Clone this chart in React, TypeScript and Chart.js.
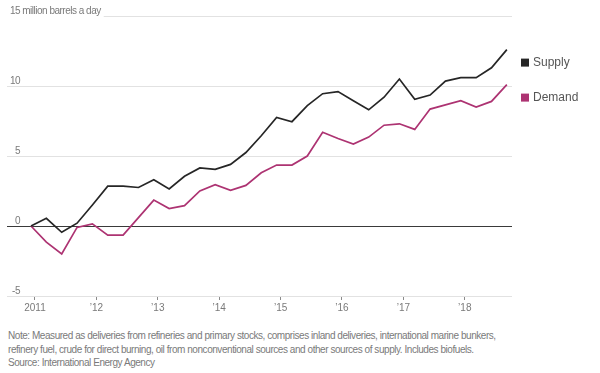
import React, { useEffect, useRef } from "react";
import { Chart, registerables } from "chart.js";

Chart.register(...registerables);

const quarters = [
  "2011 Q1", "2011 Q2", "2011 Q3", "2011 Q4",
  "2012 Q1", "2012 Q2", "2012 Q3", "2012 Q4",
  "2013 Q1", "2013 Q2", "2013 Q3", "2013 Q4",
  "2014 Q1", "2014 Q2", "2014 Q3", "2014 Q4",
  "2015 Q1", "2015 Q2", "2015 Q3", "2015 Q4",
  "2016 Q1", "2016 Q2", "2016 Q3", "2016 Q4",
  "2017 Q1", "2017 Q2", "2017 Q3", "2017 Q4",
  "2018 Q1", "2018 Q2", "2018 Q3", "2018 Q4",
];

const supply = [
  0, 0.55, -0.45, 0.2,
  1.5, 2.85, 2.85, 2.75,
  3.3, 2.65, 3.55, 4.15,
  4.05, 4.4, 5.25, 6.45,
  7.75, 7.45, 8.6, 9.45,
  9.6, 8.95, 8.3, 9.2,
  10.5, 9.05, 9.35, 10.35,
  10.6, 10.6, 11.3, 12.6,
];

const demand = [
  0, -1.15, -2.0, -0.1,
  0.15, -0.65, -0.65, 0.6,
  1.85, 1.25, 1.45, 2.5,
  2.95, 2.55, 2.9, 3.8,
  4.35, 4.35, 5.0, 6.7,
  6.25, 5.85, 6.35, 7.2,
  7.3, 6.9, 8.35, 8.65,
  8.95, 8.5, 8.9, 10.1,
];

const seriesNames = ["Supply", "Demand"];
const seriesColors = ["#262626", "#ad3372"];

const yearTicks = [2011, 2012, 2013, 2014, 2015, 2016, 2017, 2018];
const yearTickLabels = ["2011", "\u201912", "\u201913", "\u201914", "\u201915", "\u201916", "\u201917", "\u201918"];

const yTicks = [-5, 0, 5, 10, 15];
const yUnit = "million barrels a day";

const noteLines = [
  "Note: Measured as deliveries from refineries and primary stocks, comprises inland deliveries, international marine bunkers,",
  "refinery fuel, crude for direct burning, oil from nonconventional sources and other sources of supply. Includes biofuels.",
  "Source: International Energy Agency",
];

const FONT = "'Liberation Sans', Arial, sans-serif";
const TICK_SHIFT = 0.065;

function quarterToX(q: string): number {
  const [y, qq] = q.split(" Q");
  return Number(y) + (Number(qq) - 1) / 4;
}

const yLabelPlugin = {
  id: "yLabels",
  afterDraw(chart: any) {
    const { ctx, scales } = chart;
    const y = scales.y;
    const left = chart.chartArea.left;
    ctx.save();
    ctx.font = `10px ${FONT}`;
    (ctx as any).letterSpacing = "-0.5px";
    ctx.fillStyle = "#7a7a7a";
    ctx.textBaseline = "alphabetic";
    const maxV = Math.max(...yTicks);
    for (const v of yTicks) {
      const py = y.getPixelForValue(v);
      const txt = v < 0 ? "-" + Math.abs(v) : String(v);
      if (v === maxV) {
        const w = ctx.measureText(" " + yUnit).width;
        ctx.fillStyle = "#ffffff";
        ctx.fillRect(left - 1, py - 12, 20 - left + w + 4, 14);
        ctx.fillStyle = "#7a7a7a";
        ctx.textAlign = "left";
        ctx.fillText(" " + yUnit, 20, py - 2);
      }
      ctx.textAlign = "right";
      ctx.fillText(txt, 20, py - 2);
    }
    ctx.restore();
  },
};

const legendPlugin = {
  id: "sideLegend",
  afterDatasetsDraw(chart: any) {
    const { ctx, scales } = chart;
    const y = scales.y;
    ctx.save();
    ctx.font = `12px ${FONT}`;
    ctx.textBaseline = "middle";
    ctx.textAlign = "left";
    chart.data.datasets.forEach((ds: any, i: number) => {
      const last = ds.data[ds.data.length - 1].y;
      const ly = y.getPixelForValue(last) + 13;
      const sx = chart.chartArea.right + 9;
      ctx.fillStyle = seriesColors[i];
      ctx.fillRect(sx, ly - 4, 8, 8);
      ctx.fillStyle = "#555555";
      ctx.fillText(seriesNames[i], sx + 12, ly);
    });
    ctx.restore();
  },
};

export default function App() {
  const canvasRef = useRef<HTMLCanvasElement | null>(null);

  useEffect(() => {
    if (!canvasRef.current) return;
    const xs = quarters.map(quarterToX);
    const chart = new Chart(canvasRef.current, {
      type: "line",
      data: {
        datasets: [
          {
            label: seriesNames[0],
            data: supply.map((v, i) => ({ x: xs[i], y: v })),
            borderColor: seriesColors[0],
            borderWidth: 1.7,
            pointRadius: 0,
            tension: 0,
            fill: false,
          },
          {
            label: seriesNames[1],
            data: demand.map((v, i) => ({ x: xs[i], y: v })),
            borderColor: seriesColors[1],
            borderWidth: 1.7,
            pointRadius: 0,
            tension: 0,
            fill: false,
          },
        ],
      },
      options: {
        animation: false,
        responsive: false,
        maintainAspectRatio: false,
        layout: { padding: { left: 7, right: 88, top: 16, bottom: 0 } },
        plugins: {
          legend: { display: false },
          tooltip: { enabled: false },
        },
        scales: {
          x: {
            type: "linear",
            min: 2010.609,
            max: 2018.834,
            afterBuildTicks: (scale: any) => {
              scale.ticks = yearTicks.map((yv) => ({ value: yv + TICK_SHIFT }));
            },
            afterFit: (scale: any) => {
              scale.height = 24;
            },
            border: { display: false },
            grid: {
              drawOnChartArea: false,
              drawTicks: true,
              tickLength: 4,
              color: "#8a8a8a",
            },
            ticks: {
              autoSkip: false,
              maxRotation: 0,
              padding: 2,
              color: "#7a7a7a",
              font: { family: FONT, size: 10 },
              callback: (_v: any, idx: number) => yearTickLabels[idx],
            },
          },
          y: {
            type: "linear",
            min: -5,
            max: 15,
            afterBuildTicks: (scale: any) => {
              scale.ticks = yTicks.map((v) => ({ value: v }));
            },
            afterFit: (scale: any) => {
              scale.width = 0;
            },
            border: { display: false },
            grid: {
              drawTicks: false,
              color: (c: any) => (c.tick && c.tick.value === 0 ? "#3a3a3a" : "#e2e2e2"),
              lineWidth: 1,
            },
            ticks: { display: false },
          },
        },
      },
      plugins: [yLabelPlugin, legendPlugin],
    });
    return () => chart.destroy();
  }, []);

  return (
    <div
      style={{
        position: "absolute",
        left: 0,
        top: 0,
        width: 600,
        height: 373,
        background: "#ffffff",
        overflow: "hidden",
      }}
    >
      <div style={{ position: "absolute", left: 0, top: 0, width: 600, height: 320 }}>
        <canvas ref={canvasRef} width={600} height={320} style={{ width: 600, height: 320 }} />
      </div>
      <div
        style={{
          position: "absolute",
          left: 8,
          top: 329,
          width: 592,
          fontFamily: FONT,
          fontSize: 10,
          letterSpacing: "-0.45px",
          lineHeight: "13.5px",
          color: "#7a7a7a",
          whiteSpace: "nowrap",
        }}
      >
        {noteLines.map((l, i) => (
          <div key={i}>{l}</div>
        ))}
      </div>
    </div>
  );
}
